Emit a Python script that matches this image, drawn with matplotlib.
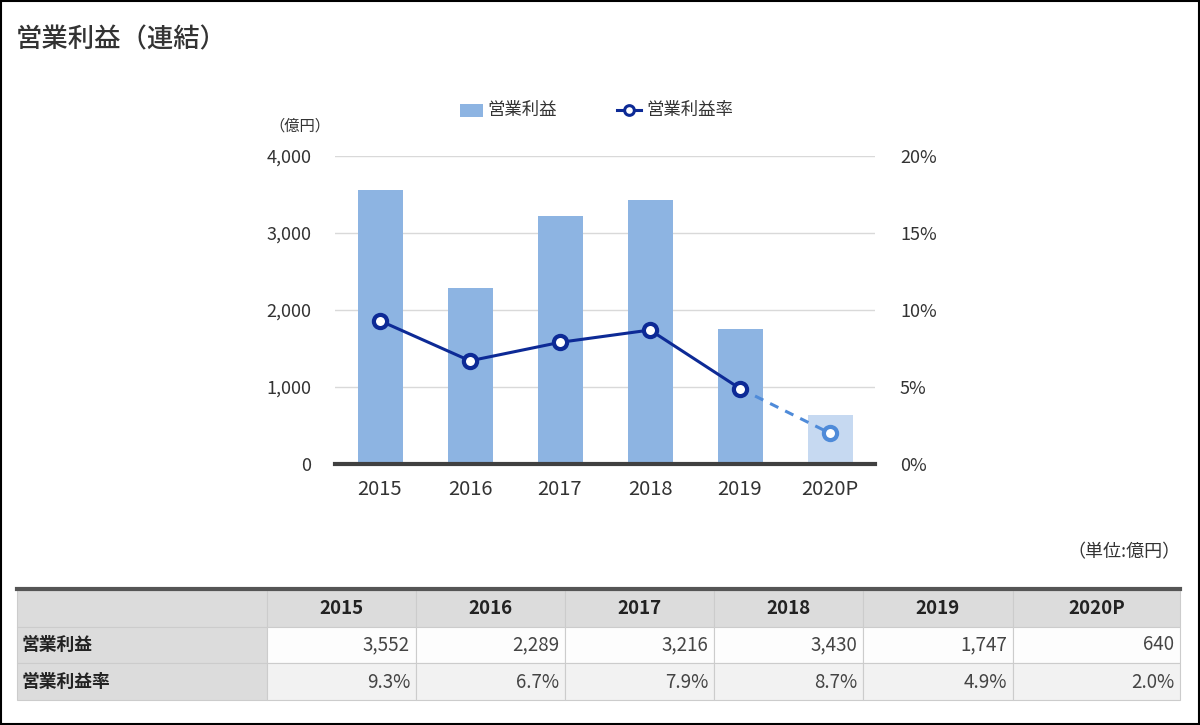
import matplotlib
matplotlib.use("Agg")
import matplotlib.pyplot as plt
from matplotlib.patches import Rectangle
from matplotlib.lines import Line2D

plt.rcParams['font.family'] = ['Noto Sans CJK JP', 'DejaVu Sans']

years = ['2015', '2016', '2017', '2018', '2019', '2020P']
profit = [3552, 2289, 3216, 3430, 1747, 640]
margin = [9.3, 6.7, 7.9, 8.7, 4.9, 2.0]
profit_labels = ['3,552', '2,289', '3,216', '3,430', '1,747', '640']
margin_labels = ['9.3%', '6.7%', '7.9%', '8.7%', '4.9%', '2.0%']
left_ticks = [0, 1000, 2000, 3000, 4000]
right_ticks = [0, 5, 10, 15, 20]

W, H = 1200, 725
fig = plt.figure(figsize=(W / 100, H / 100), dpi=100)

# background / table layer in pixel coords
bg = fig.add_axes([0, 0, 1, 1])
bg.set_xlim(0, W)
bg.set_ylim(H, 0)
bg.axis('off')
bg.add_patch(Rectangle((1, 1), W - 2, H - 2, fill=False, edgecolor='#000000', lw=1.5))

bg.text(16, 40, '営業利益（連結）', fontsize=19, fontweight='medium', color='#333333', va='center', ha='left')
bg.text(300, 126, '（億円）', fontsize=11, color='#333333', va='center', ha='center')
bg.text(1181, 552, '（単位:億円）', fontsize=13, color='#333333', va='center', ha='right')

# legend
bg.add_patch(Rectangle((460, 104), 23, 13, facecolor='#8db4e2', edgecolor='none'))
bg.text(487, 110, '営業利益', fontsize=12.5, color='#333333', va='center', ha='left')
bg.add_line(Line2D([617, 641], [110, 110], color='#0d2a96', lw=2.2))
bg.plot([629], [110], marker='o', ms=7, mfc='white', mec='#0d2a96', mew=2.2)
bg.text(646, 110, '営業利益率', fontsize=12.5, color='#333333', va='center', ha='left')

# table
tx0, tx1 = 17, 1180
col_edges = [17, 267, 416, 565, 714, 863, 1013, 1180]
row_edges = [590, 627, 663, 700]
grid_c = '#cccccc'
for r in range(3):
    for c in range(7):
        x0, x1 = col_edges[c], col_edges[c + 1]
        y0, y1 = row_edges[r], row_edges[r + 1]
        if r == 0 or c == 0:
            fc = '#dcdcdc'
        elif r == 1:
            fc = '#fdfdfd'
        else:
            fc = '#f2f2f2'
        bg.add_patch(Rectangle((x0, y0), x1 - x0, y1 - y0, facecolor=fc,
                               edgecolor=grid_c, lw=0.8))
bg.add_line(Line2D([tx0, tx1], [589, 589], color='#555555', lw=3))
for i, y in enumerate(years):
    xc = (col_edges[i + 1] + col_edges[i + 2]) / 2
    bg.text(xc, 608.5, y, fontsize=13.5, fontweight='bold', color='#222222', ha='center', va='center')
bg.text(22, 645, '営業利益', fontsize=12.8, fontweight='bold', color='#222222', ha='left', va='center')
bg.text(22, 682, '営業利益率', fontsize=12.8, fontweight='bold', color='#222222', ha='left', va='center')
for i in range(6):
    xr = col_edges[i + 2] - 6
    bg.text(xr, 645, profit_labels[i], fontsize=13.5, color='#444444', ha='right', va='center')
    bg.text(xr, 682, margin_labels[i], fontsize=13.5, color='#444444', ha='right', va='center')

# chart
ax = fig.add_axes([335 / W, 1 - 464 / H, 540 / W, 308 / H])
x = list(range(len(years)))
colors = ['#8db4e2'] * 5 + ['#c6d9f1']
ax.bar(x, profit, width=0.5, color=colors, zorder=2)
ax.set_xlim(-0.5, 5.5)
ax.set_ylim(0, 4000)
ax.set_yticks(left_ticks)
ax.set_yticklabels([f'{v:,}' for v in left_ticks])
ax.set_xticks(x)
ax.set_xticklabels(years)
ax.grid(axis='y', color='#d9d9d9', lw=1, zorder=0)
for s in ['top', 'left', 'right']:
    ax.spines[s].set_visible(False)
ax.spines['bottom'].set_color('#404040')
ax.spines['bottom'].set_linewidth(3)
ax.spines['bottom'].set_zorder(5)
ax.tick_params(axis='y', length=0, pad=17, labelsize=13, labelcolor='#333333')
ax.tick_params(axis='x', length=0, pad=11, labelsize=14.5, labelcolor='#333333')

ax2 = ax.twinx()
ax2.set_ylim(0, 20)
ax2.set_yticks(right_ticks)
ax2.set_yticklabels([f'{v}%' for v in right_ticks])
for s in ['top', 'left', 'right', 'bottom']:
    ax2.spines[s].set_visible(False)
ax2.tick_params(axis='y', length=0, pad=18, labelsize=13, labelcolor='#333333')
ax2.plot(x[4:], margin[4:], color='#4f8bd9', lw=2.2, ls=(0, (3, 2.5)), zorder=3)
ax2.plot(x[:5], margin[:5], color='#0d2a96', lw=2.2, zorder=4)
ax2.plot(x[:5], margin[:5], ls='none', marker='o', ms=9.5, mfc='white', mec='#0d2a96', mew=3, zorder=5)
ax2.plot(x[5:], margin[5:], ls='none', marker='o', ms=9.5, mfc='white', mec='#4f8bd9', mew=3, zorder=5)

fig.savefig('out.png', dpi=100)
